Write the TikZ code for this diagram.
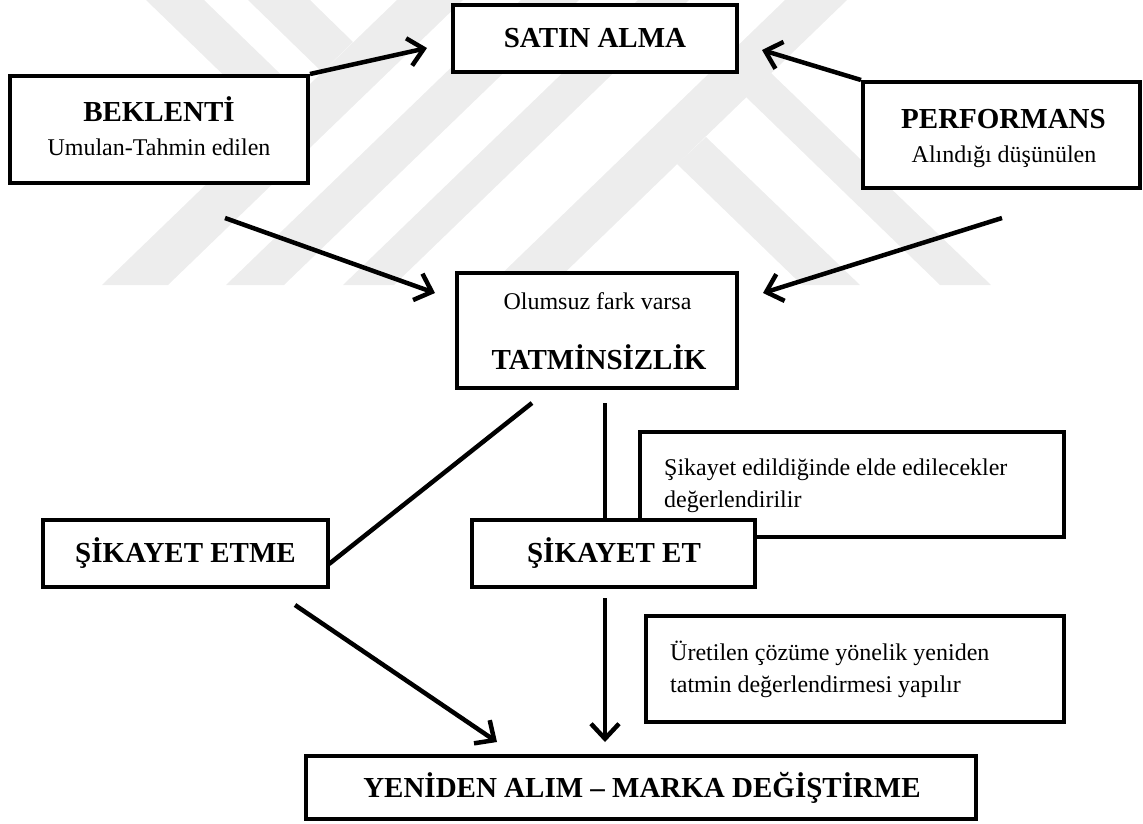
\documentclass[tikz,border=0pt]{standalone}
\usepackage{fontspec}
\setmainfont{Liberation Serif}
\usetikzlibrary{arrows.meta}
\definecolor{wm}{gray}{0.93}
\tikzset{
  box/.style={draw=black, fill=white, line width=4pt, rectangle, inner sep=0pt},
  head/.style={font=\fontsize{29}{34}\selectfont\bfseries, inner sep=0pt, anchor=base},
  body/.style={font=\fontsize{24}{28}\selectfont, inner sep=0pt, anchor=base},
  bodyl/.style={body, anchor=base west},
  arr/.style={line width=4.5pt, -{Straight Barb[length=15pt,width=28pt]}},
  link/.style={line width=4.5pt},
  band/.style={fill=wm, draw=none},
}
\begin{document}
\begin{tikzpicture}[x=1pt, y=-1pt]
\useasboundingbox (0,0) rectangle (1143,823);

% background emblem: diagonal bands
\fill[band] (102,285) -- (168,285) -- (463,0) -- (397,0) -- cycle;
\fill[band] (226,285) -- (284,285) -- (579,0) -- (521,0) -- cycle;
\fill[band] (343,285) -- (394,285) -- (689,0) -- (638,0) -- cycle;
\fill[band] (490,285) -- (552,285) -- (847,0) -- (785,0) -- cycle;
\fill[band] (146,0) -- (204,0) -- (300,93) -- (271,121) -- cycle;
\fill[band] (248,0) -- (310,0) -- (353,42) -- (322,72) -- cycle;
\fill[band] (802,285) -- (860,285) -- (706,137) -- (677,164) -- cycle;
\fill[band] (940,285) -- (991,285) -- (771,73) -- (746,97) -- cycle;

% boxes
\node[box, minimum width=284pt, minimum height=67pt] (sat) at (595,38.5) {};
\node[box, minimum width=298pt, minimum height=107pt] (bek) at (159,129.5) {};
\node[box, minimum width=277pt, minimum height=106pt] (per) at (1001.5,135) {};
\node[box, minimum width=280pt, minimum height=115pt] (tat) at (597,330.5) {};
\node[box, minimum width=424pt, minimum height=105pt] (c1) at (852,484.5) {};
\node[box, minimum width=285pt, minimum height=67pt] (etme) at (185.5,553.5) {};
\node[box, minimum width=283pt, minimum height=67pt] (et) at (613.5,553.5) {};
\node[box, minimum width=418pt, minimum height=106pt] (c2) at (855,669) {};
\node[box, minimum width=670pt, minimum height=63pt] (yen) at (641,787) {};

% texts
\node[head] (satT) at (595,47) {SATIN ALMA};
\node[head] (bekT) at (159,121) {BEKLENTİ};
\node[body] (bekS) at (159,155) {Umulan-Tahmin edilen};
\node[head] (perT) at (1003.5,128) {PERFORMANS};
\node[body] (perS) at (1004,162) {Alındığı düşünülen};
\node[body] (tatS) at (597.5,309) {Olumsuz fark varsa};
\node[head] (tatT) at (599,369) {TATMİNSİZLİK};
\node[bodyl] (c1a) at (664,475) {Şikayet edildiğinde elde edilecekler};
\node[bodyl] (c1b) at (664,507) {değerlendirilir};
\node[head] (etmeT) at (185.5,562) {ŞİKAYET ETME};
\node[head] (etT) at (614,562) {ŞİKAYET ET};
\node[bodyl] (c2a) at (670,660) {Üretilen çözüme yönelik yeniden};
\node[bodyl] (c2b) at (670,692) {tatmin değerlendirmesi yapılır};
\node[head] (yenT) at (642,797) {YENİDEN ALIM – MARKA DEĞİŞTİRME};

% free ends of the connectors
\coordinate (p1) at (427,48);
\coordinate (p2) at (762,50);
\coordinate (p3s) at (225,218);
\coordinate (p3e) at (435,293);
\coordinate (p4s) at (1002,218);
\coordinate (p4e) at (763,293);
\coordinate (p5s) at (532,403);
\coordinate (p5e) at (329,564);
\coordinate (p6s) at (605,403);
\coordinate (p6e) at (605,520);
\coordinate (p7s) at (295,605);
\coordinate (p7e) at (497,742);
\coordinate (p8s) at (605,598);
\coordinate (p8e) at (605,742);

% connectors
\draw[arr] (bek.north east) -- (p1);
\draw[arr] (per.north west) -- (p2);
\draw[arr] (p3s) -- (p3e);
\draw[arr] (p4s) -- (p4e);
\draw[link] (p5s) -- (p5e);
\draw[link] (p6s) -- (p6e);
\draw[arr] (p7s) -- (p7e);
\draw[arr] (p8s) -- (p8e);
\end{tikzpicture}
\end{document}
